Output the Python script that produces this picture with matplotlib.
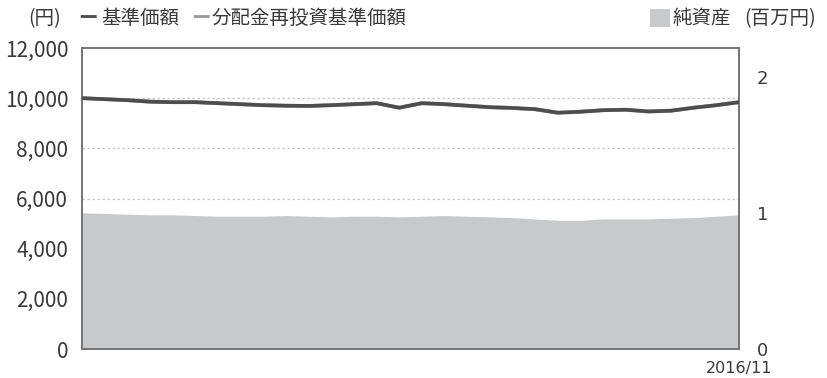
"""Fund chart: base price (left axis, yen) over net assets area (right axis, million yen)."""

import matplotlib

matplotlib.use("Agg")
import matplotlib.pyplot as plt
from matplotlib.patches import Rectangle
from matplotlib.ticker import FuncFormatter

plt.rcParams["font.family"] = ["Noto Sans CJK JP", "DejaVu Sans"]

# values, oldest -> 2016/11
base_price = [
    10000, 9960, 9920, 9860, 9840, 9840, 9800, 9760, 9720, 9700,
    9690, 9720, 9760, 9800, 9620, 9800, 9760, 9700, 9640, 9610,
    9560, 9420, 9460, 9520, 9540, 9470, 9500, 9620, 9720, 9840,
]
reinvested_price = list(base_price)  # no distributions: identical series
net_assets = [
    1.00, 0.995, 0.99, 0.985, 0.985, 0.98, 0.975, 0.975, 0.975, 0.98,
    0.975, 0.97, 0.975, 0.975, 0.97, 0.975, 0.98, 0.975, 0.97, 0.965,
    0.955, 0.945, 0.945, 0.955, 0.955, 0.955, 0.96, 0.965, 0.975, 0.985,
]
left_ticks = [0, 2000, 4000, 6000, 8000, 10000, 12000]
grid_levels = [6000, 8000, 10000]
right_ticks = [0, 1, 2]
last_label = "2016/11"

LINE = "#4d4d4d"
LINE_LIGHT = "#9a9a9a"
AREA = "#c8c9cb"
TEXT = "#3a3a3a"
SPINE = "#777777"

fig = plt.figure(figsize=(8.27, 3.78), dpi=100)
ax = fig.add_axes([0.0992, 0.0767, 0.7944, 0.7963])
ax2 = ax.twinx()

x = list(range(len(base_price)))

ax2.fill_between(x, net_assets, 0, color=AREA, lw=0)
ax2.set_ylim(0, 2.21)
ax2.set_yticks(right_ticks)

ax.set_zorder(ax2.get_zorder() + 1)
ax.patch.set_visible(False)
for lvl in grid_levels:
    ax.axhline(lvl, color="#c8c8c8", lw=0.9, ls=(0, (2, 2)), zorder=1)
ax.plot(x, reinvested_price, color=LINE_LIGHT, lw=2.8, zorder=2)
ax.plot(x, base_price, color=LINE, lw=2.6, zorder=3)

ax.set_xlim(0, len(x) - 1)
ax.set_ylim(0, 12000)
ax.set_yticks(left_ticks)
ax.yaxis.set_major_formatter(FuncFormatter(lambda v, _: f"{int(v):,}"))
ax.set_xticks([])

for a in (ax, ax2):
    a.tick_params(length=0, labelsize=15, colors=TEXT)
    for s in a.spines.values():
        s.set_color(SPINE)
        s.set_linewidth(1.4)
ax.tick_params(axis="y", pad=10)
ax2.tick_params(axis="y", pad=13, labelsize=13.5)
for lab in ax2.get_yticklabels():
    lab.set_fontfamily("DejaVu Sans")
    lab.set_fontsize(13)

# date label under the right end of the x axis
fig.text(0.8936, 0.004, last_label, fontsize=11.5, color=TEXT,
         ha="center", va="bottom", fontfamily="DejaVu Sans")

# header legend
HF = 14
HY = 0.952
fig.text(0.034, HY, "(円)", fontsize=HF, color=TEXT, va="center")
fig.text(0.094, HY, "ー", fontsize=HF, color=LINE, va="center", fontweight="bold")
fig.text(0.122, HY, "基準価額", fontsize=HF, color=TEXT, va="center")
fig.text(0.231, HY, "ー", fontsize=HF, color=LINE_LIGHT, va="center", fontweight="bold")
fig.text(0.256, HY, "分配金再投資基準価額", fontsize=HF, color=TEXT, va="center")
fig.patches.append(
    Rectangle((0.786, 0.928), 0.024, 0.047, transform=fig.transFigure,
              color=AREA, lw=0)
)
fig.text(0.813, HY, "純資産", fontsize=HF, color=TEXT, va="center")
fig.text(0.900, HY, "(百万円)", fontsize=HF, color=TEXT, va="center")

fig.savefig("out.png", dpi=100)
